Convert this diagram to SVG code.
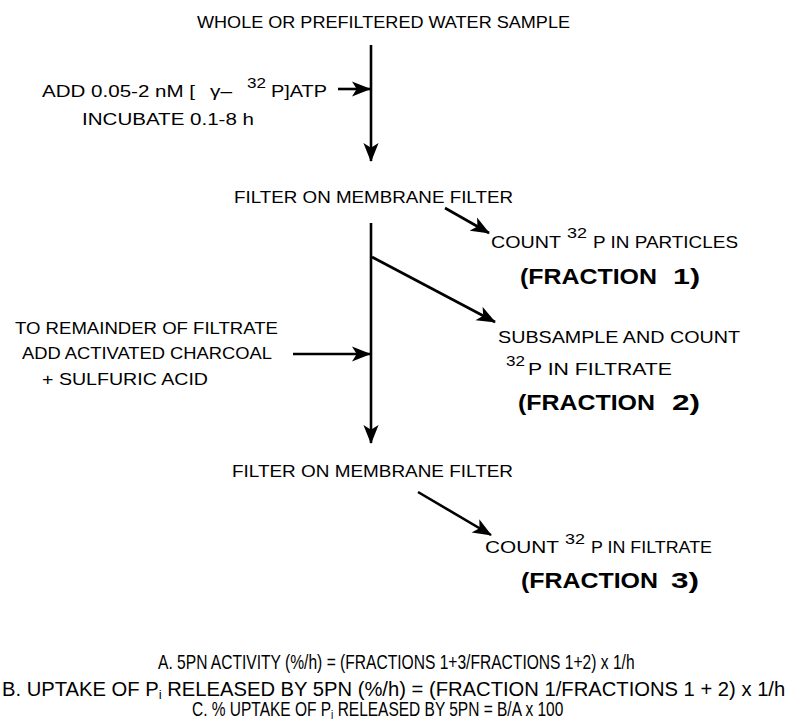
<svg xmlns="http://www.w3.org/2000/svg" width="798" height="721" viewBox="0 0 798 721">
<style>
text{font-family:"Liberation Sans",Arial,sans-serif;font-size:17px;fill:#000}
.b{font-weight:bold;font-size:22px}
.sup{font-size:14px}
text.f{font-size:20px}
tspan.sub{font-size:13px}
.ln{stroke:#000;stroke-width:2.6;fill:none}
</style>
<defs>
<marker id="ah" viewBox="0 0 20 16" markerWidth="19" markerHeight="16" refX="19" refY="8" orient="auto" markerUnits="userSpaceOnUse">
<path d="M0,0 L20,8 L0,16 L5,8 z" fill="#000"/>
</marker>
</defs>
<rect width="798" height="721" fill="#fff"/>
<g id="connectors">
<line class="ln" x1="371" y1="45" x2="371" y2="161" marker-end="url(#ah)"/>
<line class="ln" x1="338" y1="89" x2="370" y2="89" marker-end="url(#ah)"/>
<line class="ln" x1="445" y1="208" x2="489" y2="233" marker-end="url(#ah)"/>
<line class="ln" x1="371" y1="223" x2="371" y2="443" marker-end="url(#ah)"/>
<line class="ln" x1="372" y1="257" x2="495" y2="322" marker-end="url(#ah)"/>
<line class="ln" x1="293" y1="354" x2="370" y2="354" marker-end="url(#ah)"/>
<line class="ln" x1="418" y1="492" x2="491" y2="535" marker-end="url(#ah)"/>
</g>
<g id="sample">
<text x="197" y="28" textLength="373" lengthAdjust="spacingAndGlyphs">WHOLE OR PREFILTERED WATER SAMPLE</text>
</g>
<g id="add-atp">
<text x="42" y="97" textLength="153" lengthAdjust="spacingAndGlyphs">ADD 0.05-2 nM [</text>
<text x="210" y="97" textLength="22" lengthAdjust="spacingAndGlyphs">γ–</text>
<text class="sup" x="247" y="88" textLength="19" lengthAdjust="spacingAndGlyphs">32</text>
<text x="271" y="97" textLength="56" lengthAdjust="spacingAndGlyphs">P]ATP</text>
<text x="82" y="125" textLength="172" lengthAdjust="spacingAndGlyphs">INCUBATE 0.1-8 h</text>
</g>
<g id="filter1">
<text x="234" y="203" textLength="279" lengthAdjust="spacingAndGlyphs">FILTER ON MEMBRANE FILTER</text>
</g>
<g id="fraction1">
<text x="491" y="248" textLength="70" lengthAdjust="spacingAndGlyphs">COUNT</text>
<text class="sup" x="567" y="238" textLength="20" lengthAdjust="spacingAndGlyphs">32</text>
<text x="593" y="248" textLength="145" lengthAdjust="spacingAndGlyphs">P IN PARTICLES</text>
<text class="b" x="520" y="284" textLength="137" lengthAdjust="spacingAndGlyphs">(FRACTION</text>
<text class="b" x="673" y="284" textLength="27" lengthAdjust="spacingAndGlyphs">1)</text>
</g>
<g id="charcoal">
<text x="15" y="334" textLength="263" lengthAdjust="spacingAndGlyphs">TO REMAINDER OF FILTRATE</text>
<text x="22" y="359" textLength="250" lengthAdjust="spacingAndGlyphs">ADD ACTIVATED CHARCOAL</text>
<text x="42" y="385" textLength="166" lengthAdjust="spacingAndGlyphs">+ SULFURIC ACID</text>
</g>
<g id="fraction2">
<text x="498" y="343" textLength="242" lengthAdjust="spacingAndGlyphs">SUBSAMPLE AND COUNT</text>
<text class="sup" x="506" y="366" textLength="19" lengthAdjust="spacingAndGlyphs">32</text>
<text x="528" y="375" textLength="144" lengthAdjust="spacingAndGlyphs">P IN FILTRATE</text>
<text class="b" x="518" y="410" textLength="137" lengthAdjust="spacingAndGlyphs">(FRACTION</text>
<text class="b" x="672" y="410" textLength="28" lengthAdjust="spacingAndGlyphs">2)</text>
</g>
<g id="filter2">
<text x="232" y="477" textLength="281" lengthAdjust="spacingAndGlyphs">FILTER ON MEMBRANE FILTER</text>
</g>
<g id="fraction3">
<text x="485" y="553" textLength="74" lengthAdjust="spacingAndGlyphs">COUNT</text>
<text class="sup" x="565" y="544" textLength="20" lengthAdjust="spacingAndGlyphs">32</text>
<text x="591" y="553" textLength="121" lengthAdjust="spacingAndGlyphs">P IN FILTRATE</text>
<text class="b" x="521" y="588" textLength="137" lengthAdjust="spacingAndGlyphs">(FRACTION</text>
<text class="b" x="671" y="588" textLength="28" lengthAdjust="spacingAndGlyphs">3)</text>
</g>
<g id="formulas">
<text class="f" transform="translate(158,669) scale(0.78,1)">A. 5PN ACTIVITY (%/h) = (FRACTIONS 1+3/FRACTIONS 1+2) x 1/h</text>
<text class="f" transform="translate(2,696) scale(1.01,1)">B. UPTAKE OF P<tspan class="sub" dy="3">i</tspan><tspan dy="-3"> RELEASED BY 5PN (%/h) = (FRACTION 1/FRACTIONS 1 + 2) x 1/h</tspan></text>
<text class="f" transform="translate(192,716) scale(0.775,1)">C. % UPTAKE OF P<tspan class="sub" dy="3">i</tspan><tspan dy="-3"> RELEASED BY 5PN = B/A x 100</tspan></text>
</g>
</svg>
